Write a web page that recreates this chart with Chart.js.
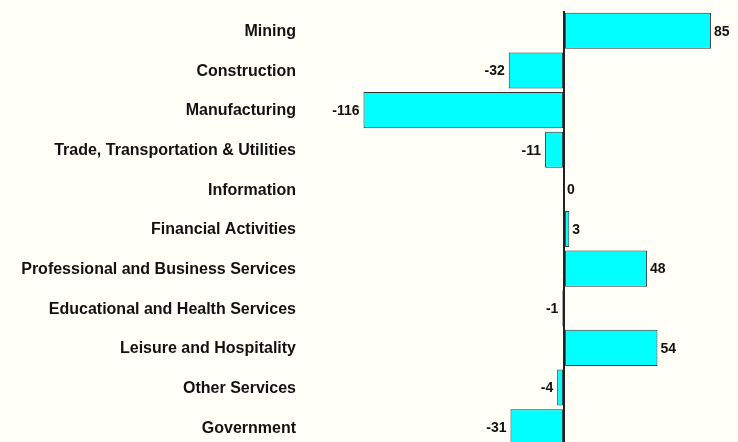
<!DOCTYPE html>
<html>
<head>
<meta charset="utf-8">
<script src="https://cdn.jsdelivr.net/npm/chart.js@4"></script>
<style>
  html, body { margin: 0; padding: 0; background: #fffff7; overflow: hidden; }
  #wrap { width: 738px; height: 447px; }
</style>
</head>
<body>
<div id="wrap"><canvas id="myChart"></canvas></div>
<script>
let labels = ['Mining', 'Construction', 'Manufacturing', 'Trade, Transportation & Utilities',
    'Information', 'Financial Activities', 'Professional and Business Services',
    'Educational and Health Services', 'Leisure and Hospitality', 'Other Services', 'Government']
let values = [85, -32, -116, -11, 0, 3, 48, -1, 54, -4, -31]

// value labels next to bar ends
let valueLabels = {
    id: 'valueLabels',
    afterDatasetsDraw(chart) {
        let ctx = chart.ctx
        let meta = chart.getDatasetMeta(0)
        ctx.save()
        ctx.font = 'bold 14px "Liberation Sans", Arial, sans-serif'
        ctx.fillStyle = '#111'
        ctx.textBaseline = 'middle'
        meta.data.forEach((bar, i) => {
            let v = values[i]
            if (v < 0) {
                ctx.textAlign = 'right'
                ctx.fillText(String(v), bar.x - 4, bar.y + 1)
            } else {
                ctx.textAlign = 'left'
                ctx.fillText(String(v), bar.x + 3, bar.y + 1)
            }
        })
        ctx.restore()
    }
}

let ctx = document.getElementById('myChart').getContext('2d')
let myChart = new Chart(ctx, {
    type: 'bar',
    data: {
        labels: labels,
        datasets: [
            {
                data: values,
                backgroundColor: '#00ffff',
                borderColor: '#333',
                borderWidth: 1,
                borderSkipped: false,
                barPercentage: 0.91,
                categoryPercentage: 1,
            },
        ],
    },
    options: {
        indexAxis: 'y',
        responsive: true,
        maintainAspectRatio: false,
        animation: false,
        layout: {
            padding: { top: 11, right: 1, bottom: 0, left: 0 },
        },
        plugins: {
            legend: { display: false },
            tooltip: { enabled: false },
        },
        scales: {
            x: {
                min: -140,
                max: 100,
                ticks: { display: false, stepSize: 20 },
                border: { display: false },
                grid: {
                    drawTicks: false,
                    lineWidth: 2,
                    color: (c) => c.tick && c.tick.value === 0 ? '#222' : 'transparent',
                },
            },
            y: {
                afterFit: (scale) => {
                    scale.width = 322
                    scale.paddingTop = 0
                    scale.paddingBottom = 0
                },
                border: { display: false },
                grid: { display: false, drawTicks: false },
                ticks: {
                    padding: 26,
                    labelOffset: 1,
                    color: '#111',
                    font: { family: '"Liberation Sans", Arial, sans-serif', size: 16, weight: 'bold' },
                },
            },
        },
    },
    plugins: [valueLabels],
})
</script>
</body>
</html>
